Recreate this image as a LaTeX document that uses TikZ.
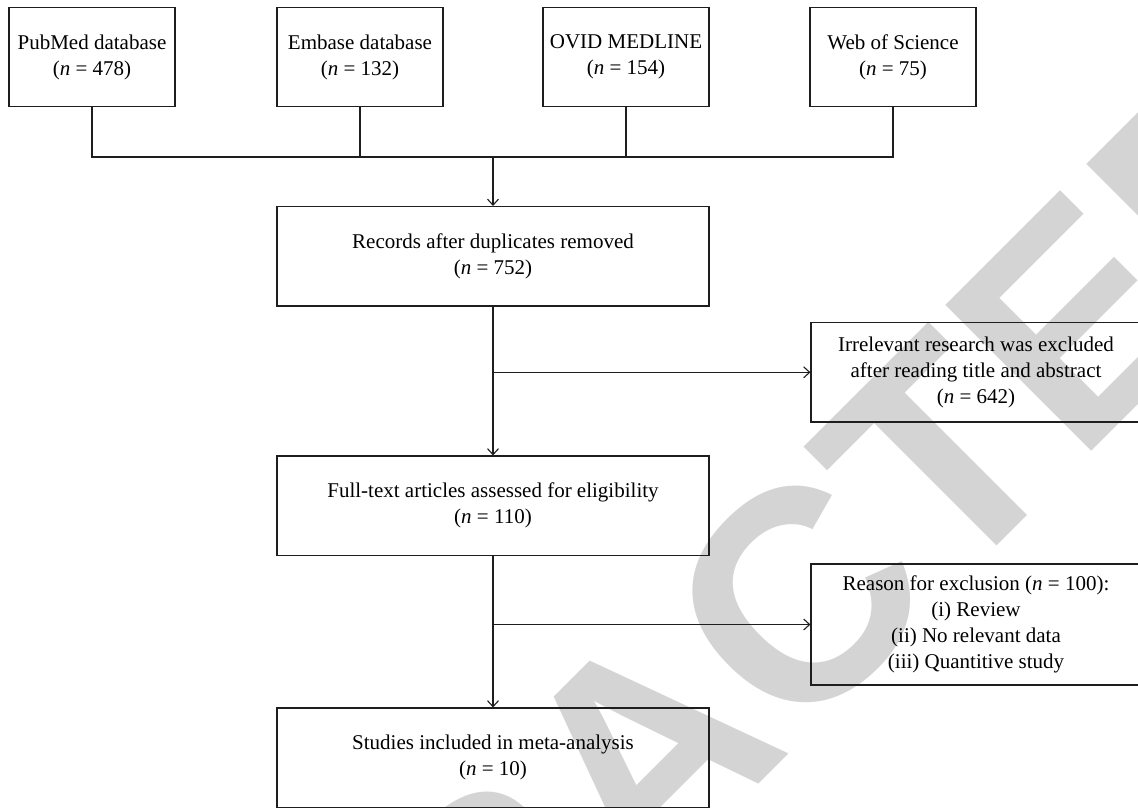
\documentclass[tikz,border=0pt]{standalone}
\usepackage{fontspec}
\setmainfont{Liberation Serif}
\newfontfamily\wmfont{Liberation Sans}
\usetikzlibrary{arrows.meta}
\definecolor{wmgray}{RGB}{212,212,212}
\definecolor{ink}{RGB}{30,30,30}
\begin{document}
\begin{tikzpicture}[x=1pt,y=-1pt,
  box/.style={draw=ink, line width=1.1pt, align=center, inner sep=0pt,
    font=\fontsize{21}{26}\selectfont},
  topbox/.style={box, minimum width=166pt, minimum height=99pt},
  midbox/.style={box, minimum width=432pt, minimum height=99.5pt},
  sidebox/.style={box, minimum width=330pt},
  link/.style={line width=1.1pt, draw=ink},
  arr/.style={link, -{Straight Barb[length=6pt,width=11pt]}},
  wm/.style={rotate=45, text=wmgray, inner sep=0pt,
    font=\wmfont\bfseries\fontsize{300}{300}\selectfont}
]
\useasboundingbox (0,0) rectangle (1138,807);
\begin{scope}
\clip (0,0) rectangle (1138,807);
\node[wm] (mark) at (645,752) {RETRACTED};
\end{scope}

\node[topbox] (pub) at (92,57) {PubMed database\\({\itshape n} = 478)};
\node[topbox] (emb) at (360,57) {Embase database\\({\itshape n} = 132)};
\node[topbox] (ovid) at (626,57) {OVID MEDLINE\\({\itshape n} = 154)};
\node[topbox] (wos) at (893,57) {Web of Science\\({\itshape n} = 75)};
\node[midbox] (rec) at (493,256.25) {Records after duplicates removed\\({\itshape n} = 752)};
\node[sidebox, minimum height=99.3pt] (irr) at (976,372.3) {Irrelevant research was excluded\\after reading title and abstract\\({\itshape n} = 642)};
\node[midbox] (full) at (493,505.75) {Full-text articles assessed for eligibility\\({\itshape n} = 110)};
\node[sidebox, minimum height=121pt] (reas) at (976,624.5) {Reason for exclusion ({\itshape n} = 100):\\(i) Review\\(ii) No relevant data\\(iii) Quantitive study};
\node[midbox] (stud) at (493,757.75) {Studies included in meta-analysis\\({\itshape n} = 10)};

\coordinate (j) at (493,157);
\draw[link] (pub.south) -- (pub.south |- j) -- (wos.south |- j) -- (wos.south);
\draw[link] (emb.south) -- (emb.south |- j);
\draw[link] (ovid.south) -- (ovid.south |- j);
\draw[arr] (j) -- (rec.north);
\draw[arr] (rec.south) -- (full.north);
\draw[arr] (rec.south |- irr.west) -- (irr.west);
\draw[arr] (full.south) -- (stud.north);
\draw[arr] (full.south |- reas.west) -- (reas.west);
\end{tikzpicture}
\end{document}
